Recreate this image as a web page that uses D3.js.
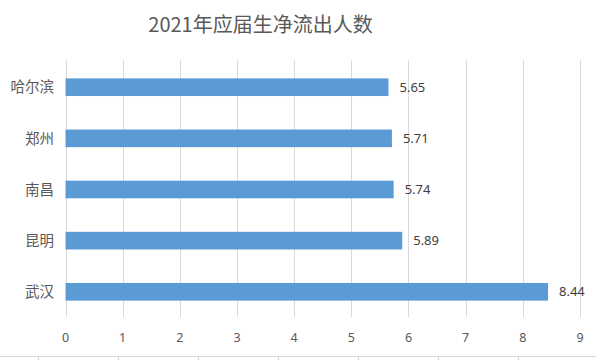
<!DOCTYPE html>
<html><head><meta charset="utf-8">
<script src="https://cdn.jsdelivr.net/npm/d3@7"></script>
<style>
body{margin:0;background:#fff;}
svg{display:block;font-family:"Noto Sans","Noto Sans CJK SC",sans-serif;}
</style></head><body>
<script>
const categories = ["哈尔滨","郑州","南昌","昆明","武汉"];
const values = [5.65, 5.71, 5.74, 5.89, 8.44];
const xTicks = [0,1,2,3,4,5,6,7,8,9];
const title = "2021年应届生净流出人数";
const sheetCols = [0,1,2,3,4,5,6,7];

const W = 596, H = 360;
const svg = d3.select("body").append("svg").attr("width", W).attr("height", H);

const x = d3.scaleLinear().domain([0, 9]).range([65.5, 580]);
const y = d3.scaleBand().domain(categories).range([61.5, 317.5]).paddingInner(0.655).paddingOuter(0.33);

// gridlines
svg.append("g").selectAll("line").data(xTicks).join("line")
  .attr("x1", d => Math.round(x(d)) + 0.5).attr("x2", d => Math.round(x(d)) + 0.5)
  .attr("y1", 60).attr("y2", 317)
  .attr("stroke", "#d9d9d9").attr("stroke-width", 1);

// bars
svg.append("g").selectAll("rect").data(values).join("rect")
  .attr("x", x(0))
  .attr("y", (d, i) => y(categories[i]))
  .attr("width", d => x(d) - x(0))
  .attr("height", y.bandwidth())
  .attr("fill", "#5B9BD5");

// data labels
svg.append("g").selectAll("text").data(values).join("text")
  .attr("x", d => x(d) + 11)
  .attr("y", (d, i) => y(categories[i]) + y.bandwidth() / 2)
  .attr("dy", "0.36em")
  .attr("font-size", 13).attr("fill", "#404040")
  .text(d => d.toFixed(2));

// category labels
svg.append("g").selectAll("text").data(categories).join("text")
  .attr("x", 54)
  .attr("y", d => y(d) + y.bandwidth() / 2)
  .attr("dy", "0.36em")
  .attr("text-anchor", "end")
  .attr("font-family", "'Noto Sans CJK SC',sans-serif")
  .attr("font-size", 14.5).attr("fill", "#595959")
  .text(d => d);

// x tick labels
svg.append("g").selectAll("text").data(xTicks).join("text")
  .attr("x", d => x(d))
  .attr("y", 337)
  .attr("dy", "0.36em")
  .attr("text-anchor", "middle")
  .attr("font-size", 12.5).attr("fill", "#595959")
  .text(d => d);

// title
svg.append("text")
  .attr("x", 260.5).attr("y", 25).attr("dy", "0.36em")
  .attr("text-anchor", "middle")
  .attr("font-family", "'Noto Sans CJK SC',sans-serif")
  .attr("font-size", 20).attr("fill", "#595959")
  .text(title);

// spreadsheet border at bottom
const sx = d3.scaleLinear().domain([0, 1]).range([38, 118]);
svg.append("line").attr("x1", 0).attr("x2", W).attr("y1", 356.5).attr("y2", 356.5)
  .attr("stroke", "#d9d9d9");
svg.append("g").selectAll("line").data(sheetCols).join("line")
  .attr("x1", d => sx(d) + 0.5).attr("x2", d => sx(d) + 0.5)
  .attr("y1", 357).attr("y2", 360).attr("stroke", "#d9d9d9");
</script>
</body></html>
